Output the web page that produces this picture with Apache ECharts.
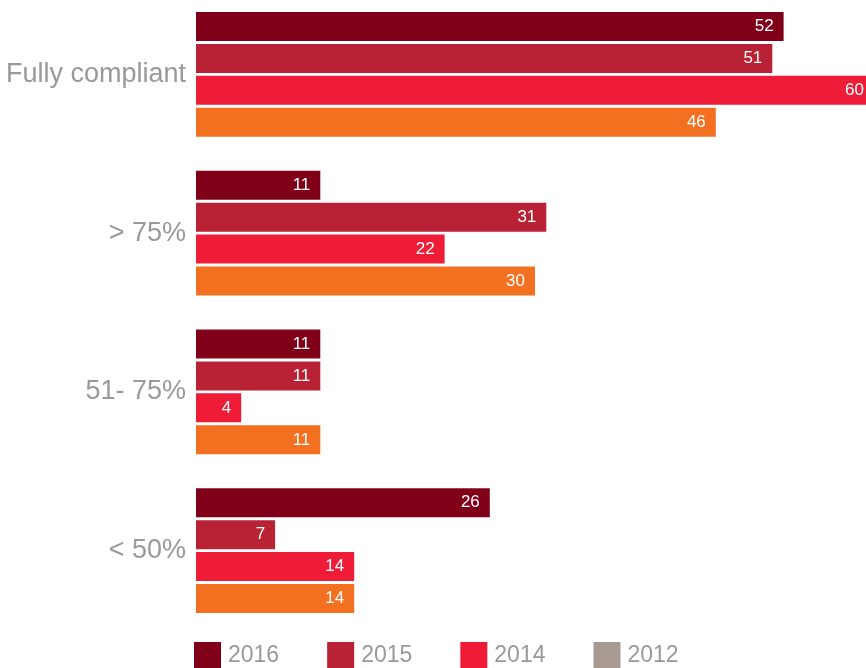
<!DOCTYPE html>
<html>
<head>
<meta charset="utf-8">
<script src="https://cdn.jsdelivr.net/npm/echarts@6/dist/echarts.min.js"></script>
<style>html,body{margin:0;padding:0;background:#fff}#c{width:866px;height:668px}</style>
</head>
<body>
<div id="c"></div>
<script>
const categories = ['Fully compliant', '> 75%', '51- 75%', '< 50%'];
const seriesNames = ['2016', '2015', '2014', '2012'];
const s2016 = [52, 11, 11, 26];
const s2015 = [51, 31, 11, 7];
const s2014 = [60, 22, 4, 14];
const s2012 = [46, 30, 11, 14];
const values = [s2016, s2015, s2014, s2012];
const barColors = ['#80001A', '#B92234', '#EE1C37', '#F37021'];
const legendColors = ['#80001A', '#B92234', '#EE1C37', '#A89A90'];
const FONT = '"Liberation Sans", Arial, Helvetica, sans-serif';

const chart = echarts.init(document.getElementById('c'), null, {renderer: 'canvas'});
chart.setOption({
  animation: false,
  textStyle: {fontFamily: FONT},
  grid: {left: 196, right: -8, top: -5, height: 635, containLabel: false, outerBoundsMode: 'none'},
  legend: {
    left: 194, top: 642, padding: 0, icon: 'rect', itemWidth: 27, itemHeight: 27, itemGap: 48,
    textStyle: {color: '#999', fontSize: 23, fontFamily: FONT, padding: [0, 0, 0, 2]},
    data: seriesNames.map((n, i) => ({name: n, itemStyle: {color: legendColors[i]}}))
  },
  xAxis: {type: 'value', min: 0, max: 60, show: false, splitLine: {show: false}},
  yAxis: {
    type: 'category', inverse: true, data: categories,
    axisLine: {show: false}, axisTick: {show: false},
    axisLabel: {color: '#999', fontSize: 27, margin: 10, fontFamily: FONT}
  },
  series: seriesNames.map((n, i) => ({
    name: n, type: 'bar', data: values[i], barWidth: 29, barGap: '10.3%',
    itemStyle: {color: barColors[i]},
    label: {show: true, position: 'insideRight', distance: 10, color: '#fff', fontSize: 17, fontFamily: FONT}
  }))
});
</script>
</body>
</html>
